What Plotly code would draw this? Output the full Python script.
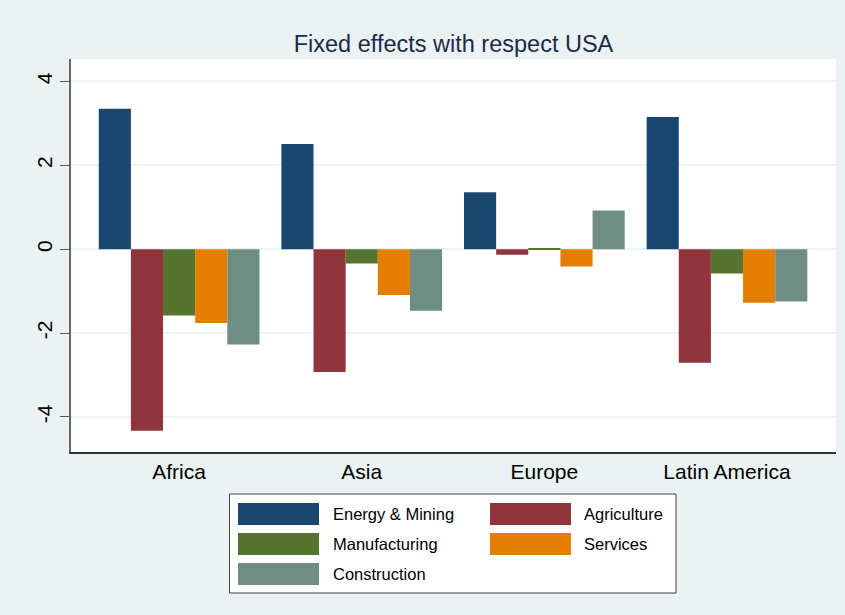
import plotly.graph_objects as go

# Regions on the category axis and the sector series
regions = ["Africa", "Asia", "Europe", "Latin America"]
sectors = ["Energy & Mining", "Agriculture", "Manufacturing", "Services", "Construction"]

energy_mining = [3.35, 2.51, 1.36, 3.15]
agriculture = [-4.33, -2.93, -0.13, -2.71]
manufacturing = [-1.58, -0.34, 0.03, -0.58]
services = [-1.76, -1.09, -0.41, -1.28]
construction = [-2.27, -1.47, 0.92, -1.25]

series_values = [energy_mining, agriculture, manufacturing, services, construction]
colors = ["#1a476f", "#90353b", "#55752f", "#e37e00", "#6e8e84"]

y_ticks = [-4, -2, 0, 2, 4]

W, H = 845, 615
ML, MR, MT, MB = 71, 9, 59, 163
PW, PH = W - ML - MR, H - MT - MB


def px_x(px):
    return (px - ML) / PW


def px_y(py):
    return (H - MB - py) / PH


fig = go.Figure()
for name, vals, col in zip(sectors, series_values, colors):
    fig.add_trace(go.Bar(
        x=regions, y=vals, name=name,
        marker=dict(color=col, line=dict(width=0)),
        showlegend=False,
    ))

# Boxed two-column key below the plot
shapes = [dict(type="rect", xref="paper", yref="paper",
               x0=px_x(229.5), x1=px_x(676), y0=px_y(593), y1=px_y(494),
               fillcolor="white", line=dict(color="#404040", width=1), layer="above")]
annotations = []
col_swatch = [238, 490]
col_text = [331, 582]
row_center = [514, 544, 574]
for i, (name, col) in enumerate(zip(sectors, colors)):
    r, c = divmod(i, 2)
    cy = row_center[r]
    shapes.append(dict(type="rect", xref="paper", yref="paper",
                       x0=px_x(col_swatch[c]), x1=px_x(col_swatch[c] + 81),
                       y0=px_y(cy + 11), y1=px_y(cy - 11),
                       fillcolor=col, line=dict(width=0), layer="above"))
    annotations.append(dict(xref="paper", yref="paper", x=px_x(col_text[c]), y=px_y(cy),
                            xanchor="left", yanchor="middle", showarrow=False,
                            text=name, font=dict(family="Liberation Sans, Arial", size=16.5, color="black")))

fig.update_layout(
    width=W, height=H,
    margin=dict(l=ML, r=MR, t=MT, b=MB, autoexpand=False),
    paper_bgcolor="#eaf2f3",
    plot_bgcolor="white",
    barmode="group",
    bargap=0.12,
    bargroupgap=0,
    title=dict(text="Fixed effects with respect USA", x=px_x((ML + W - MR) / 2), xref="paper",
               xanchor="center", y=1 - 44 / H, yanchor="middle",
               font=dict(family="Liberation Sans, Arial", size=23.5, color="#1c2b48")),
    font=dict(family="Liberation Sans, Arial", color="black"),
    shapes=shapes,
    annotations=annotations,
    xaxis=dict(range=[-0.592, 3.597], showgrid=False, ticks="", showline=True,
               linecolor="#333333", linewidth=1.5, tickfont=dict(size=21, color="black"),
               ticklabelstandoff=0, zeroline=False),
    yaxis=dict(range=[-4.836, 4.535], tickvals=y_ticks, ticktext=[str(v) for v in y_ticks],
               tickangle=-90, ticks="outside", ticklen=9, tickcolor="#555555", tickwidth=1.2,
               showline=True, linecolor="#666666", linewidth=1.5,
               showgrid=True, gridcolor="#eaf2f3", gridwidth=2,
               zeroline=False, tickfont=dict(size=21, color="black")),
)

fig.write_html("out.html")
